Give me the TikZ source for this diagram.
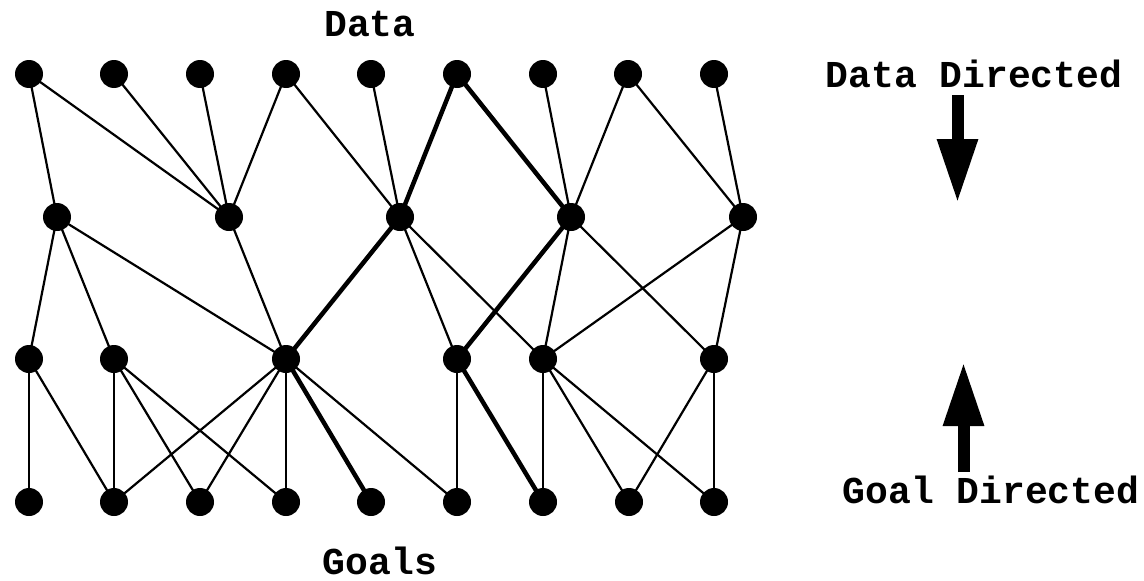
\documentclass[tikz,border=0pt]{standalone}
\usepackage{fontspec}
\newfontfamily\lblfont{Liberation Mono}
\usetikzlibrary{arrows.meta}
\tikzset{
  dot/.style={circle,fill=black,draw=none,minimum size=28pt,inner sep=0pt},
  thin edge/.style={draw=black,line width=2.2pt},
  thick edge/.style={draw=black,line width=4.5pt},
  lbl/.style={font=\lblfont\bfseries\fontsize{38}{40}\selectfont,inner sep=0pt,anchor=base},
  bigarrow/.style={draw=black,line width=12pt,-{Triangle[width=38pt,length=64pt]}}
}
\begin{document}
\begin{tikzpicture}[x=1pt,y=-1pt]
\useasboundingbox (0,0) rectangle (1144,581);
% row 1
\foreach \i/\x in {1/29,2/114,3/200,4/286,5/371,6/457,7/543,8/628,9/714}
  \node[dot] (a\i) at (\x,74) {};
% row 2
\foreach \i/\x in {1/57,2/229,3/400,4/571,5/743}
  \node[dot] (b\i) at (\x,217) {};
% row 3
\foreach \i/\x in {1/29,2/114,3/286,4/457,5/543,6/714}
  \node[dot] (c\i) at (\x,359) {};
% row 4
\foreach \i/\x in {1/29,2/114,3/200,4/286,5/371,6/457,7/543,8/629,9/714}
  \node[dot] (d\i) at (\x,502) {};
% thin edges row1-row2
\foreach \s/\t in {a1/b1,a1/b2,a2/b2,a3/b2,a4/b2,a4/b3,a5/b3,a7/b4,a8/b4,a8/b5,a9/b5}
  \draw[thin edge] (\s.center) -- (\t.center);
% thin edges row2-row3
\foreach \s/\t in {b1/c1,b1/c2,b1/c3,b2/c3,b3/c4,b3/c5,b4/c5,b4/c6,b5/c5,b5/c6}
  \draw[thin edge] (\s.center) -- (\t.center);
% thin edges row3-row4
\foreach \s/\t in {c1/d1,c1/d2,c2/d2,c2/d3,c2/d4,c3/d2,c3/d3,c3/d4,c3/d6,c4/d6,c5/d7,c5/d8,c5/d9,c6/d8,c6/d9}
  \draw[thin edge] (\s.center) -- (\t.center);
% thick edges
\foreach \s/\t in {a6/b3,a6/b4,b3/c3,b4/c4,c3/d5,c4/d7}
  \draw[thick edge] (\s.center) -- (\t.center);
% labels
\node[lbl] (data) at (370,36) {Data};
\node[lbl] (goals) at (380,574) {Goals};
\node[lbl] (dd) at (974,87) {Data Directed};
\node[lbl] (gd) at (991,503) {Goal Directed};
% arrows
\coordinate (dtop) at (957.5,95);
\coordinate (dbot) at (957.5,203);
\coordinate (ubot) at (963.5,472);
\coordinate (utop) at (963.5,362);
\draw[bigarrow] (dtop) -- (dbot);
\draw[bigarrow] (ubot) -- (utop);
\end{tikzpicture}
\end{document}
